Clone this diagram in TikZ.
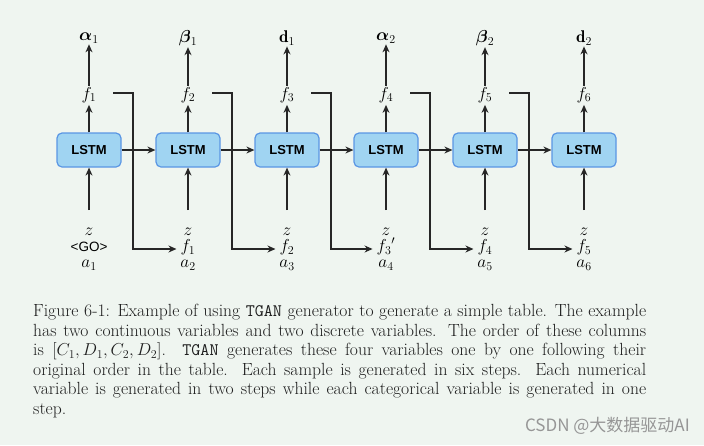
\documentclass[tikz,border=0pt]{standalone}
\usepackage{fontspec}
\usepackage{amsmath}
\newfontfamily\lstmfont{Liberation Sans}
\newfontfamily\cjkfont{Noto Sans CJK SC}
\usetikzlibrary{arrows.meta,calc}
\definecolor{bgc}{RGB}{239,245,240}
\definecolor{boxfill}{RGB}{160,212,242}
\definecolor{boxdraw}{RGB}{90,150,228}
\definecolor{captc}{RGB}{30,30,30}
\definecolor{wmc}{RGB}{150,150,150}
\tikzset{
  lstm/.style={draw=boxdraw, fill=boxfill, line width=1.2pt, rounded corners=5pt,
    minimum width=64pt, minimum height=34pt, inner sep=0pt,
    font=\lstmfont\bfseries\fontsize{13}{15}\selectfont},
  lab/.style={inner sep=1pt, font=\fontsize{17}{19}\selectfont},
  blab/.style={inner sep=0pt, text height=8.5pt, text depth=3pt, font=\fontsize{17}{19}\selectfont},
  arr/.style={-{Stealth[length=8pt,width=7pt]}, line width=1.2pt, black!85},
}
\begin{document}
\begin{tikzpicture}[x=1pt,y=-1pt]
\fill[bgc] (0,0) rectangle (704,445);
\useasboundingbox (0,0) rectangle (704,445);
% columns
\foreach \i/\cx/\top/\mid in {1/89/{\boldsymbol{\alpha}_1}/{\text{\lstmfont\fontsize{13.5}{15}\selectfont<GO>}},
  2/188/{\boldsymbol{\beta}_1}/{f_1},
  3/287/{\mathbf{d}_1}/{f_2},
  4/386/{\boldsymbol{\alpha}_2}/{{f_3}'},
  5/485/{\boldsymbol{\beta}_2}/{f_4},
  6/584/{\mathbf{d}_2}/{f_5}}{
  \node[lstm] (b\i) at (\cx,150) {LSTM};
  \node[lab] (f\i) at (\cx,95) {$f_{\i}$};
  \node[lab] (t\i) at (\cx,38) {$\top$};
  \node[blab] (z\i) at (\cx,233) {$z$};
  \node[blab] (m\i) at (\cx,249) {$\mid$};
  \node[blab] (a\i) at (\cx,265) {$a_{\i}$};
  \coordinate (in\i) at (\cx,210);
  \draw[arr] (b\i.north) -- ([yshift=-1pt]f\i.south);
  \draw[arr] (f\i.north) -- (t\i.south);
  \draw[arr] (in\i) -- (b\i.south);
}
\foreach \i/\j in {1/2,2/3,3/4,4/5,5/6}{
  \draw[arr] (b\i.east) -- (b\j.west);
  \coordinate (s\i) at ($(b\i.center)+(24,-57)$);
  \coordinate (k\i) at ($(b\i.center)+(44,-57)$);
  \draw[line width=1.2pt, black!85, -{Stealth[length=8pt,width=7pt]}, rounded corners=0pt]
     (s\i) -- (k\i) |- ([xshift=-4pt]m\j.west);
}
\node[anchor=north west, inner sep=0pt, text width=613pt, align=justify, text=captc,
  font=\fontsize{17.6}{19.6}\selectfont] (cap) at (33,304)
 {Figure 6-1: Example of using \texttt{TGAN} generator to generate a simple table. The example\linebreak
 has two continuous variables and two discrete variables. The order of these columns\linebreak
 is $[C_1,D_1,C_2,D_2]$. \texttt{TGAN} generates these four variables one by one following their\linebreak
 original order in the table. Each sample is generated in six steps. Each numerical\linebreak
 variable is generated in two steps while each categorical variable is generated in one\linebreak
 step.};
\node[anchor=east, inner sep=0pt, text=wmc, font=\cjkfont\fontsize{17}{20}\selectfont] (wm) at (690,426) {CSDN @大数据驱动AI};
\end{tikzpicture}
\end{document}
